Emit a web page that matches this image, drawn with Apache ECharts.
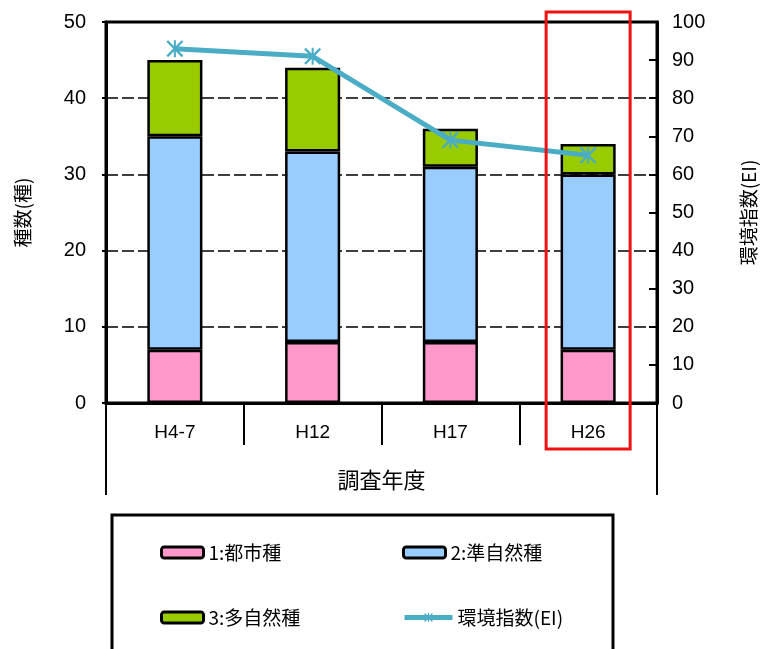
<!DOCTYPE html>
<html>
<head>
<meta charset="utf-8">
<script src="https://cdn.jsdelivr.net/npm/echarts@6/dist/echarts.min.js"></script>
<style>
  html, body { margin: 0; padding: 0; background: #fff; overflow: hidden; }
  #main { width: 761px; height: 649px; }
</style>
</head>
<body>
<div id="main"></div>
<script>
const years = ['H4-7', 'H12', 'H17', 'H26'];
const toshi = [7, 8, 8, 7];          // 1:都市種
const junShizen = [28, 25, 23, 23];  // 2:準自然種
const taShizen = [10, 11, 5, 4];     // 3:多自然種
const eiIndex = [93, 91, 69, 65];    // 環境指数(EI)
const leftTicks = [0, 50, 10];
const rightTicks = [0, 100, 10];

const JP = '"Noto Sans CJK JP", sans-serif';
const NUM = '"Liberation Sans", Arial, sans-serif';
const G = { left: 106, top: 22, width: 551, height: 381 };

// asterisk marker
const star = 'path://M4.4,0L5.6,0L5.6,10L4.4,10Z M1,0L10,9L9,10L0,1Z M9,0L10,1L1,10L0,9Z';

const chart = echarts.init(document.getElementById('main'));

function barSeries(name, data, color) {
    return {
        name: name,
        type: 'bar',
        stack: 'sp',
        barWidth: '40%',
        data: data,
        itemStyle: { color: color, borderColor: '#000', borderWidth: 2.5 },
        z: 2
    };
}

const legendBase = {
    itemWidth: 42,
    itemHeight: 11,
    itemGap: 4,
    selectedMode: false,
    itemStyle: { borderColor: '#000', borderWidth: 3 },
    lineStyle: { width: 5 },
    textStyle: { fontFamily: JP, fontSize: 19, color: '#000' }
};

chart.setOption({
    animation: false,
    grid: Object.assign({
        show: true, borderColor: '#000', borderWidth: 3, backgroundColor: 'transparent',
        outerBoundsMode: 'none', containLabel: false
    }, G),
    legend: [
        Object.assign({}, legendBase, { data: ['1:都市種'], left: 155, top: 538 }),
        Object.assign({}, legendBase, { data: ['2:準自然種'], left: 397, top: 538 }),
        Object.assign({}, legendBase, { data: ['3:多自然種'], left: 155, top: 603 }),
        Object.assign({}, legendBase, { data: ['環境指数(EI)'], left: 397, top: 603, itemWidth: 48,
            itemStyle: { borderWidth: 0 } })
    ],
    xAxis: {
        type: 'category',
        data: years,
        name: '調査年度',
        nameLocation: 'middle',
        nameGap: 66,
        nameTextStyle: { fontFamily: JP, fontSize: 22, color: '#000' },
        axisLine: { lineStyle: { color: '#000', width: 3 } },
        axisTick: { show: true, length: 42, lineStyle: { color: '#000', width: 2 } },
        axisLabel: { fontFamily: NUM, fontSize: 19, color: '#000', margin: 20 }
    },
    yAxis: [{
        type: 'value',
        min: leftTicks[0],
        max: leftTicks[1],
        interval: leftTicks[2],
        name: '種数(種)',
        nameLocation: 'middle',
        nameRotate: 90,
        nameGap: 74,
        nameTextStyle: { fontFamily: JP, fontSize: 19, color: '#000' },
        axisLine: { show: true, lineStyle: { color: '#000', width: 3 } },
        axisTick: { show: true, length: 4, lineStyle: { color: '#000', width: 2 } },
        axisLabel: { fontFamily: NUM, fontSize: 20, color: '#000', margin: 20 },
        splitLine: { show: true, lineStyle: { color: '#000', width: 1.5, type: [12, 4] } }
    }, {
        type: 'value',
        min: rightTicks[0],
        max: rightTicks[1],
        interval: rightTicks[2],
        position: 'right',
        name: '環境指数(EI)',
        nameLocation: 'middle',
        nameRotate: 90,
        nameGap: 82,
        nameTextStyle: { fontFamily: JP, fontSize: 19, color: '#000' },
        axisLine: { show: true, lineStyle: { color: '#000', width: 3 } },
        axisTick: { show: true, inside: true, length: 8, lineStyle: { color: '#000', width: 2 } },
        axisLabel: { fontFamily: NUM, fontSize: 20, color: '#000', margin: 15 },
        splitLine: { show: false }
    }],
    series: [
        barSeries('1:都市種', toshi, '#ff99cc'),
        barSeries('2:準自然種', junShizen, '#99ccff'),
        barSeries('3:多自然種', taShizen, '#99cc00'),
        {
            name: '環境指数(EI)',
            type: 'line',
            yAxisIndex: 1,
            data: eiIndex,
            symbol: star,
            symbolSize: 17,
            showSymbol: true,
            color: '#4bacc6',
            lineStyle: { color: '#4bacc6', width: 5 },
            itemStyle: { color: '#4bacc6' },
            z: 5
        }
    ]
});

// frame lines below the axis, legend box and red highlight around H26
const x0 = G.left, x1 = G.left + G.width, yAxisPx = G.top + G.height;
const last = chart.convertToPixel({ xAxisIndex: 0 }, years[years.length - 1]);
chart.setOption({
    graphic: [
        { type: 'line', shape: { x1: x0, y1: yAxisPx, x2: x0, y2: 495 }, style: { stroke: '#000', lineWidth: 2 } },
        { type: 'line', shape: { x1: x1, y1: yAxisPx, x2: x1, y2: 495 }, style: { stroke: '#000', lineWidth: 2 } },
        { type: 'rect', shape: { x: 112, y: 515, width: 501, height: 150 }, style: { fill: 'none', stroke: '#000', lineWidth: 3 } },
        { type: 'rect', z: 100, shape: { x: last - 42, y: 12, width: 84, height: 437 }, style: { fill: 'none', stroke: '#ee1111', lineWidth: 3 } }
    ]
});
</script>
</body>
</html>
